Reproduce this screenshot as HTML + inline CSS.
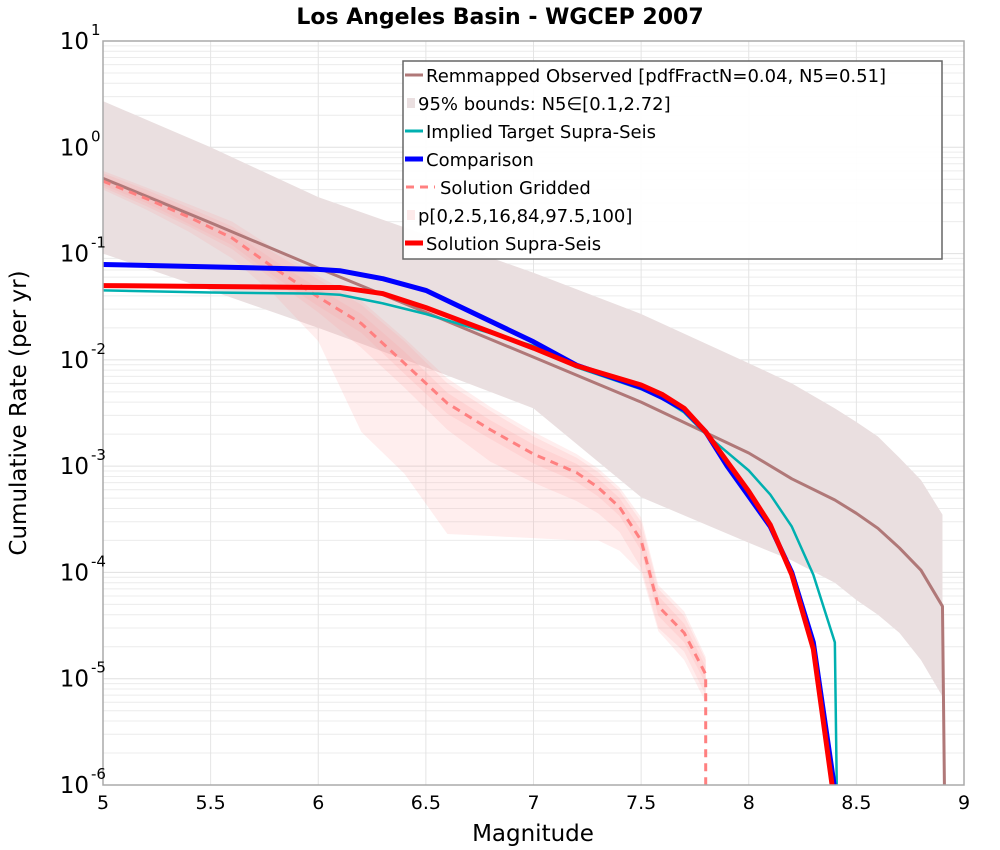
<!DOCTYPE html>
<html><head><meta charset="utf-8"><style>
html,body{margin:0;padding:0;background:#fff;}
svg{display:block;font-family:"DejaVu Sans","Liberation Sans",sans-serif;}
</style></head><body>
<svg id="chart" width="1000" height="850" xmlns="http://www.w3.org/2000/svg">
<text x="500" y="24" text-anchor="middle" font-size="22" font-weight="bold">Los Angeles Basin - WGCEP 2007</text>
<g id="grid"></g>
<g id="series"></g>
<rect x="103" y="41" width="861" height="744" fill="none" stroke="#aaa" stroke-width="1.5"/>
<g id="axes"></g>
<text x="533" y="841" text-anchor="middle" font-size="23">Magnitude</text>
<text transform="translate(26,413) rotate(-90)" text-anchor="middle" font-size="23">Cumulative Rate (per yr)</text>
<g id="legend">
<rect x="403" y="61" width="539" height="198" fill="#fff" fill-opacity="0.92" stroke="#666" stroke-width="1.5"/>
<g><line x1="405" y1="75" x2="423" y2="75" stroke="#b07878" stroke-width="3"/><text x="426" y="82" font-size="18">Remmapped Observed [pdfFractN=0.04, N5=0.51]</text></g>
<g><rect x="407" y="98" width="8" height="10" fill="#eadfe0"/><text x="418" y="110" font-size="18">95% bounds: N5∈[0.1,2.72]</text></g>
<g><line x1="405" y1="131" x2="423" y2="131" stroke="#00b0b0" stroke-width="3"/><text x="426" y="138" font-size="18">Implied Target Supra-Seis</text></g>
<g><line x1="405" y1="159" x2="423" y2="159" stroke="#0000ff" stroke-width="5"/><text x="426" y="166" font-size="18">Comparison</text></g>
<g><line x1="406" y1="187" x2="435" y2="187" stroke="#ff8080" stroke-width="3" stroke-dasharray="8,6"/><text x="440" y="194" font-size="18">Solution Gridded</text></g>
<g><rect x="407" y="210" width="8" height="10" fill="#fdeaea"/><text x="418" y="222" font-size="18">p[0,2.5,16,84,97.5,100]</text></g>
<g><line x1="405" y1="243" x2="423" y2="243" stroke="#ff0000" stroke-width="5"/><text x="426" y="250" font-size="18">Solution Supra-Seis</text></g>
</g>
</svg>
<script>
// ---- data ----
const obsMag = [5,5.5,6,6.5,7,7.5,8,8.2,8.4,8.5,8.6,8.7,8.8,8.9,8.91];
const obsRate = [0.51,0.195,0.073,0.028,0.0106,0.004,0.00133,0.00076,0.00048,0.00036,0.00026,0.00017,0.000105,0.000048,1e-7];
const boundMag = [5,5.5,6,6.5,7,7.5,8,8.2,8.4,8.5,8.6,8.7,8.8,8.9];
const boundUpper = [2.72,1.0,0.34,0.15,0.066,0.027,0.0093,0.006,0.0035,0.0026,0.0019,0.0012,0.00074,0.00035];
const boundLower = [0.1,0.045,0.02,0.0085,0.0035,0.00051,0.00019,0.00013,0.00008,0.000055,0.00004,0.000027,0.000015,0.0000068];
const supraMag = [5,5.5,6,6.1,6.3,6.5,7,7.2,7.5,7.6,7.7,7.8,7.9,8,8.1,8.2,8.3,8.4];
const comparison = [0.079,0.075,0.071,0.069,0.058,0.045,0.0148,0.0089,0.0055,0.0044,0.0034,0.0021,0.001,0.00052,0.00027,0.0001,0.000022,9e-7];
const solutionSupra = [0.05,0.049,0.048,0.048,0.042,0.031,0.0129,0.0088,0.0058,0.0047,0.0035,0.0021,0.0011,0.00058,0.00028,0.000095,0.000019,1e-8];
const impliedTarget = [0.045,0.043,0.042,0.041,0.034,0.027,0.0135,0.0085,0.0053,0.0043,0.0032,0.002,0.00135,0.00091,0.00054,0.00027,0.000095,0.000022];
const gridMag = [5,5.2,5.4,5.6,5.8,6,6.2,6.4,6.6,6.8,7,7.2,7.3,7.4,7.5,7.58,7.7,7.8];
const gridMean = [0.48,0.33,0.22,0.14,0.072,0.039,0.022,0.0093,0.0039,0.0022,0.0013,0.00087,0.00063,0.00041,0.0002,0.000048,0.000027,0.000011];
const gridP84 = [0.53,0.37,0.25,0.16,0.085,0.047,0.027,0.012,0.0049,0.0027,0.0016,0.00105,0.00076,0.0005,0.00025,0.00006,0.000033,0.000013];
const gridP16 = [0.44,0.3,0.19,0.12,0.06,0.032,0.018,0.0074,0.0031,0.0018,0.00106,0.00071,0.00052,0.00034,0.00016,0.000039,0.000022,0.000009];
const gridP975 = [0.57,0.4,0.27,0.18,0.1,0.057,0.033,0.015,0.006,0.0033,0.0019,0.0012,0.00088,0.00058,0.0003,0.00007,0.000039,0.000015];
const gridP25 = [0.42,0.28,0.18,0.11,0.055,0.028,0.013,0.0055,0.0022,0.0011,0.0007,0.00047,0.00036,0.00024,0.00011,0.00003,0.000018,0.000007];
const gridMax = [0.6,0.42,0.29,0.2,0.11,0.062,0.036,0.016,0.0067,0.0036,0.0021,0.0013,0.00095,0.00063,0.00033,0.000076,0.000043,0.000016];
const gridMin = [0.4,0.26,0.16,0.09,0.04,0.015,0.0021,0.00085,0.00023,0.00022,0.00021,0.0002,0.0002,0.00016,0.0001,0.000028,0.000015,0.000006];
const xTicks = [5,5.5,6,6.5,7,7.5,8,8.5,9];
const xTickLabels = ["5","5.5","6","6.5","7","7.5","8","8.5","9"];
const yExps = [1,0,-1,-2,-3,-4,-5,-6];

// ---- axes ----
const L=103,R=964,T=41,B=785;
const xMin=5,xMax=9,yMaxE=1,yMinE=-6;
function X(m){return L+(m-xMin)/(xMax-xMin)*(R-L);}
function Y(v){const e=Math.log10(Math.max(v,1e-9));let y=T+(yMaxE-e)/(yMaxE-yMinE)*(B-T);return Math.min(y,B+20);}
const NS="http://www.w3.org/2000/svg";
function mk(tag,attrs,parent){const el=document.createElementNS(NS,tag);for(const k in attrs)el.setAttribute(k,attrs[k]);parent.appendChild(el);return el;}
const grid=document.getElementById('grid'),series=document.getElementById('series'),axes=document.getElementById('axes');

// clip
const defs=mk('defs',{},document.getElementById('chart'));
const cp=mk('clipPath',{id:'pc'},defs);mk('rect',{x:L,y:T,width:R-L,height:B-T},cp);
series.setAttribute('clip-path','url(#pc)');

for(let e=yMinE;e<yMaxE;e++){for(let k=2;k<=9;k++){const l=mk('line',{x1:L,x2:R,y1:Y(k*Math.pow(10,e)),y2:Y(k*Math.pow(10,e)),stroke:'#ececec','stroke-width':1},grid);

}}
yExps.forEach(e=>{const l=mk('line',{x1:L,x2:R,y1:Y(Math.pow(10,e)),y2:Y(Math.pow(10,e)),stroke:'#e0e0e0','stroke-width':1},grid);


const t=mk('text',{x:L-14,y:Y(Math.pow(10,e))+8,'text-anchor':'end','font-size':23},axes);


t.textContent='10';
const s=mk('text',{x:L-12,y:Y(Math.pow(10,e))-6,'font-size':15},axes);


s.textContent=String(e);});
xTicks.forEach((m,i)=>{const l=mk('line',{x1:X(m),x2:X(m),y1:T,y2:B,stroke:'#e4e4e4','stroke-width':1},grid);


const t=mk('text',{x:X(m),y:B+24,'text-anchor':'middle','font-size':19},axes);


t.textContent=xTickLabels[i];});

function band(mags,up,lo,fill,op,name){let d='';mags.forEach((m,i)=>{d+=(i?'L':'M')+X(m)+','+Y(up[i]);});
for(let i=mags.length-1;i>=0;i--)d+='L'+X(mags[i])+','+Y(lo[i]);d+='Z';
const p=mk('path',{d:d,fill:fill,'fill-opacity':op,stroke:'none'},series);

}
function line(mags,vals,color,w,name,dash){let d='';mags.forEach((m,i)=>{d+=(i?'L':'M')+X(m)+','+Y(vals[i]);});
const a={d:d,fill:'none',stroke:color,'stroke-width':w,'stroke-linejoin':'round'};if(dash)a['stroke-dasharray']=dash;
const p=mk('path',a,series);

}

band(boundMag,boundUpper,boundLower,'#eadfe0',1,'observed-95-bounds');
band(gridMag,gridMax,gridMin,'#ff9a9a',0.17,'gridded-band-min-max');
band(gridMag,gridP975,gridP25,'#ff9a9a',0.17,'gridded-band-2.5-97.5');
band(gridMag,gridP84,gridP16,'#ff9a9a',0.17,'gridded-band-16-84');
line(obsMag,obsRate,'#b07878',3,'observed-line');
const gm=gridMag.concat([gridMag[gridMag.length-1]]);const gv=gridMean.concat([1e-8]);
line(gm,gv,'#ff8080',3,'solution-gridded-line','8,6');
line(supraMag.concat([8.41]),impliedTarget.concat([1e-8]),'#00b0b0',2.5,'implied-target-line');
line(supraMag,comparison,'#0000ff',5,'comparison-line');
line(supraMag,solutionSupra,'#ff0000',5,'solution-supra-line');
</script>
</body></html>
